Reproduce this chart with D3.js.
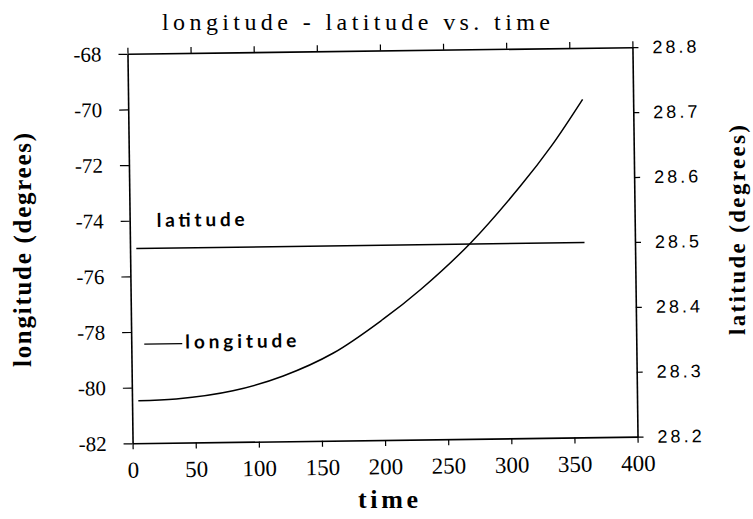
<!DOCTYPE html>
<html>
<head>
<meta charset="utf-8">
<script src="https://cdnjs.cloudflare.com/ajax/libs/d3/7.8.5/d3.min.js"></script>
<style>
  body { margin: 0; background: #fff; }
  svg { display: block; }
</style>
</head>
<body>
<div id="chart"></div>
<script>
// data
let arrTime = [5, 35, 80, 120, 160, 200, 230, 270, 310, 335, 360];
let arrLon = [-80.47, -80.43, -80.16, -79.65, -78.85, -77.65, -76.6, -74.95, -72.93, -71.5, -69.85];
let arrLatTime = [5, 360];
let arrLat = [28.5, 28.5];

let arrTimeTicks = [0, 50, 100, 150, 200, 250, 300, 350, 400];
let arrLonTicks = [-82, -80, -78, -76, -74, -72, -70, -68];
let arrLatTicks = [28.2, 28.3, 28.4, 28.5, 28.6, 28.7, 28.8];

// svg size
let intTotalWid = 753;
let intTotalHgt = 519;

// plot box (before the small scan tilt)
let objBox = { left: 130, right: 635, top: 50.5, bottom: 440 };

let svg = d3.select("#chart")
  .append("svg")
  .attr("width", intTotalWid)
  .attr("height", intTotalHgt);

// the scanned figure is rotated a little counterclockwise
let cx = (objBox.left + objBox.right) / 2;
let cy = (objBox.top + objBox.bottom) / 2;
let g = svg.append("g")
  .attr("transform", `rotate(-0.75, ${cx}, ${cy})`);

// scales
let fnX = d3.scaleLinear().domain([0, 400]).range([objBox.left, objBox.right]);
let fnYLon = d3.scaleLinear().domain([-82, -68]).range([objBox.bottom, objBox.top]);
let fnYLat = d3.scaleLinear().domain([28.2, 28.8]).range([objBox.bottom, objBox.top]);

// axes
let gBottom = g.append("g")
  .attr("transform", `translate(0, ${objBox.bottom})`)
  .call(d3.axisBottom(fnX).tickValues(arrTimeTicks).tickSize(6).tickSizeOuter(0).tickPadding(12));
gBottom.selectAll("text")
  .attr("font-family", "'Liberation Serif', serif")
  .attr("font-size", 23);

let gTop = g.append("g")
  .attr("transform", `translate(0, ${objBox.top})`)
  .call(d3.axisTop(fnX).tickValues(arrTimeTicks).tickSize(6).tickSizeOuter(0).tickFormat(""));

let gLeft = g.append("g")
  .attr("transform", `translate(${objBox.left}, 0)`)
  .call(d3.axisLeft(fnYLon).tickValues(arrLonTicks).tickSize(9).tickSizeOuter(0).tickPadding(17)
    .tickFormat(d => String(d)));
gLeft.selectAll("text")
  .attr("font-family", "'Liberation Serif', serif")
  .attr("font-size", 21);

let gRight = g.append("g")
  .attr("transform", `translate(${objBox.right}, 0)`)
  .call(d3.axisRight(fnYLat).tickValues(arrLatTicks).tickSize(6).tickSizeOuter(0).tickPadding(14)
    .tickFormat(d3.format(".1f")));
gRight.selectAll("text")
  .attr("font-family", "'Liberation Sans', sans-serif")
  .attr("font-size", 18)
  .attr("letter-spacing", 3);

[gBottom, gTop, gLeft, gRight].forEach(a => {
  a.select(".domain").attr("stroke", "#000").attr("stroke-width", 1.6);
  a.selectAll(".tick line").attr("stroke", "#000").attr("stroke-width", 1.2);
  a.selectAll("text").attr("fill", "#000");
});

// lines
let fnLonLine = d3.line()
  .x((d, i) => fnX(arrTime[i]))
  .y(d => fnYLon(d))
  .curve(d3.curveCatmullRom.alpha(0.5));

g.append("path")
  .attr("d", fnLonLine(arrLon))
  .attr("fill", "none")
  .attr("stroke", "#000")
  .attr("stroke-width", 1.5);

let fnLatLine = d3.line()
  .x((d, i) => fnX(arrLatTime[i]))
  .y(d => fnYLat(d));

g.append("path")
  .attr("d", fnLatLine(arrLat))
  .attr("fill", "none")
  .attr("stroke", "#000")
  .attr("stroke-width", 1.5);

// annotations
g.append("text")
  .attr("x", 157)
  .attr("y", 224)
  .attr("font-family", "Lato, sans-serif")
  .attr("font-weight", "bold")
  .attr("font-size", 19)
  .attr("textLength", 88)
  .attr("lengthAdjust", "spacing")
  .text("latitude");

g.append("line")
  .attr("x1", 143).attr("x2", 181)
  .attr("y1", 341).attr("y2", 341)
  .attr("stroke", "#000")
  .attr("stroke-width", 1.3);

g.append("text")
  .attr("x", 184)
  .attr("y", 346)
  .attr("font-family", "Lato, sans-serif")
  .attr("font-weight", "bold")
  .attr("font-size", 19)
  .attr("textLength", 111)
  .attr("lengthAdjust", "spacing")
  .text("longitude");

// title and axis labels
svg.append("text")
  .attr("x", 162)
  .attr("y", 30)
  .attr("font-family", "'Liberation Serif', serif")
  .attr("font-size", 24)
  .attr("textLength", 388)
  .attr("lengthAdjust", "spacing")
  .text("longitude - latitude vs. time");

svg.append("text")
  .attr("x", 358)
  .attr("y", 508)
  .attr("font-family", "'Liberation Serif', serif")
  .attr("font-weight", "bold")
  .attr("font-size", 26)
  .attr("textLength", 60)
  .attr("lengthAdjust", "spacing")
  .text("time");

svg.append("text")
  .attr("transform", "translate(31, 367) rotate(-90)")
  .attr("font-family", "'Liberation Serif', serif")
  .attr("font-weight", "bold")
  .attr("font-size", 25)
  .attr("textLength", 234)
  .attr("lengthAdjust", "spacing")
  .text("longitude (degrees)");

svg.append("text")
  .attr("transform", "translate(745, 335) rotate(-90)")
  .attr("font-family", "'Liberation Serif', serif")
  .attr("font-weight", "bold")
  .attr("font-size", 23)
  .attr("textLength", 210)
  .attr("lengthAdjust", "spacing")
  .text("latitude (degrees)");
</script>
</body>
</html>
